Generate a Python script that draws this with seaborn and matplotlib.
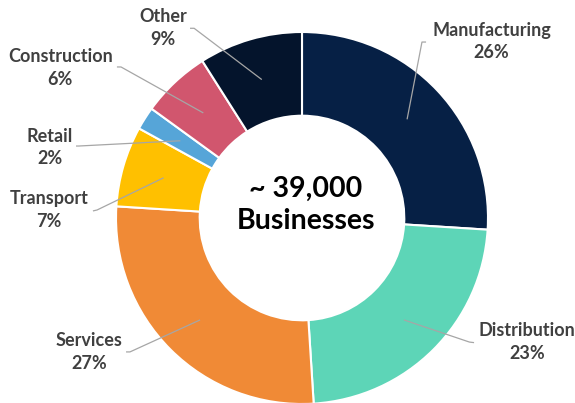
import numpy as np
import matplotlib
matplotlib.use("Agg")
import matplotlib.pyplot as plt
import seaborn as sns

# Business counts by sector (share of ~39,000 businesses)
sectors = ["Manufacturing", "Distribution", "Services", "Transport",
           "Retail", "Construction", "Other"]
shares = [26, 23, 27, 7, 2, 6, 9]
center_lines = ["~ 39,000", "Businesses"]

palette = ["#062045", "#5DD5B7", "#F08A36", "#FFC000",
           "#56A5D8", "#D1566E", "#04142C"]

# label placement (text centre, leader-line elbow, leader-line end), in radius units
label_layout = {
    "Manufacturing": ((1.02, 0.95), (0.645, 0.946), (0.667, 0.946)),
    "Distribution": ((1.21, -0.667), (0.900, -0.667), (0.925, -0.670)),
    "Services": ((-1.145, -0.72), (-0.925, -0.72), (-0.946, -0.72)),
    "Transport": ((-1.36, 0.043), (-1.102, 0.043), (-1.124, 0.038)),
    "Retail": ((-1.355, 0.38), (-1.20, 0.387), (-1.215, 0.387)),
    "Construction": ((-1.30, 0.806), (-0.973, 0.812), (-0.995, 0.812)),
    "Other": ((-0.747, 1.02), (-0.58, 1.02), (-0.602, 1.02)),
}

sns.set_style("white")
plt.rcParams["font.family"] = ["Lato", "DejaVu Sans"]

W, H = 575, 403
cx, cy, R = 302, 218, 186
fig = plt.figure(figsize=(W / 100, H / 100), dpi=100)
ax = fig.add_axes([0, 0, 1, 1])

ring = 0.45
wedges, _ = ax.pie(shares, colors=palette, startangle=90, counterclock=False,
                   radius=1.0,
                   wedgeprops=dict(width=ring, edgecolor="white", linewidth=1.5))

ax.set_xlim(-cx / R, (W - cx) / R)
ax.set_ylim(-(H - cy) / R, cy / R)
ax.set_aspect("equal")
ax.axis("off")

mid_r = 1.0 - ring / 2
for w, name, pct in zip(wedges, sectors, shares):
    ang = np.deg2rad((w.theta1 + w.theta2) / 2)
    ax0, ay0 = mid_r * np.cos(ang), mid_r * np.sin(ang)
    (tx, ty), (ex, ey), (fx, fy) = label_layout[name]
    ax.plot([ax0, ex, fx], [ay0, ey, fy], color="#A6A6A6", lw=0.9,
            solid_capstyle="butt", zorder=3)
    ax.text(tx, ty, f"{name}\n{pct}%", ha="center", va="center",
            fontsize=13, fontweight="bold", color="#404040",
            linespacing=1.4)

ax.text(0.02, 0.07, "\n".join(center_lines), ha="center", va="center",
        fontsize=20.5, fontweight="bold", color="black", linespacing=1.25)

fig.savefig("out.png", dpi=100)
